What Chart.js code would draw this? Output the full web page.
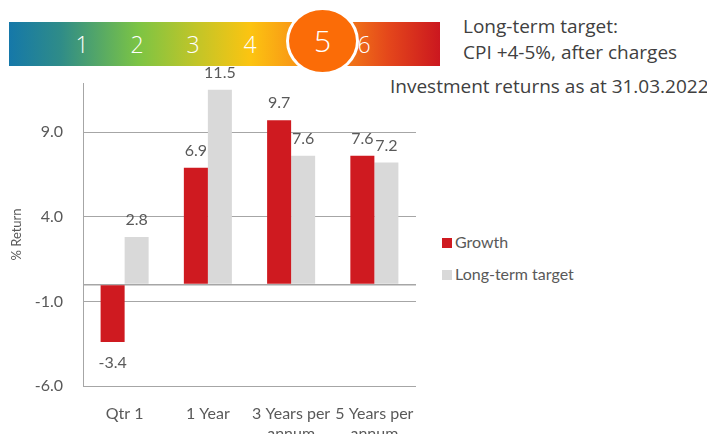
<!DOCTYPE html>
<html>
<head>
<meta charset="utf-8">
<script src="https://cdn.jsdelivr.net/npm/chart.js@4"></script>
<style>
body{margin:0;width:707px;height:434px;overflow:hidden;background:#fff;font-family:'Open Sans',sans-serif;color:#404040;position:relative}
#wrap{position:absolute;left:0;top:0;width:430px;height:434px}
.scale{position:absolute;left:9px;top:22px;width:431px;height:44px;
  background:linear-gradient(90deg,#1578a9 0%,#2f8c88 12%,#7cc444 30%,#c4c527 44%,#fcc411 56%,#f99d15 65%,#f07018 80%,#e4471b 88%,#cb171f 100%)}
.n{position:absolute;top:22px;height:44px;line-height:44px;color:#fff;font-size:23px;font-weight:300;transform:translateX(-50%)}
.dot{position:absolute;left:286px;top:7px;width:67px;height:62px;border:3px solid #fff;border-radius:50%;background:#fb6c07;
  color:#fff;font-size:30px;font-weight:300;text-align:center;line-height:62px}
.hd{position:absolute;font-size:19px;white-space:nowrap}
.lg{position:absolute;left:442px;font-family:Lato,sans-serif;font-size:16px;color:#595959;white-space:nowrap}
.lg i{display:inline-block;width:10px;height:10px;margin-right:3px;vertical-align:0}
</style>
</head>
<body>
<div class="scale"></div>
<div class="n" style="left:82px">1</div><div class="n" style="left:137px">2</div>
<div class="n" style="left:193px">3</div><div class="n" style="left:250px">4</div>
<div class="n" style="left:364px">6</div>
<div class="dot">5</div>
<div class="hd" style="left:463px;top:13px">Long-term target:</div>
<div class="hd" style="left:463px;top:39px">CPI +4-5%, after charges</div>
<div class="hd" style="left:390px;top:73px">Investment returns as at 31.03.2022</div>
<div id="wrap"><canvas id="c"></canvas></div>
<div class="lg" style="top:232px"><i style="background:#cf1a20"></i>Growth</div>
<div class="lg" style="top:264px"><i style="background:#d9d9d9"></i>Long-term target</div>
<script>
const categories=[['Qtr 1'],['1 Year'],['3 Years per','annum'],['5 Years per','annum']];
const growth=[-3.4,6.9,9.7,7.6];
const target=[2.8,11.5,7.6,7.2];
const yTicks=[-6,-1,0,4,9];
const yMin=-6,yMax=11.9;

const tc='#595959',gc='#a6a6a6';

/* value labels above / below bars */
const valueLabels={id:'valueLabels',afterDatasetsDraw(chart){
  const ctx=chart.ctx;
  ctx.save();ctx.font='16px Lato';ctx.fillStyle=tc;ctx.textAlign='center';
  chart.data.datasets.forEach((ds,i)=>{
    chart.getDatasetMeta(i).data.forEach((bar,j)=>{
      const v=ds.data[j];
      if(v>=0){ctx.textBaseline='alphabetic';ctx.fillText(v.toFixed(1),bar.x,bar.y-12);}
      else{ctx.textBaseline='top';ctx.fillText(v.toFixed(1),bar.x,bar.y+13);}
    });
  });
  ctx.restore();
}};

new Chart(document.getElementById('c'),{
  type:'bar',
  data:{labels:categories,datasets:[
    {label:'Growth',data:growth,backgroundColor:'#cf1a20',categoryPercentage:0.577,barPercentage:1},
    {label:'Long-term target',data:target,backgroundColor:'#d9d9d9',categoryPercentage:0.577,barPercentage:1}
  ]},
  options:{responsive:true,maintainAspectRatio:false,animation:false,
    layout:{padding:{top:83,left:0,right:14,bottom:0}},
    plugins:{legend:{display:false},tooltip:{enabled:false}},
    scales:{
      x:{grid:{display:false},border:{display:false},
        ticks:{color:tc,font:{family:'Lato',size:16,lineHeight:1.25},padding:10,maxRotation:0,autoSkip:false},
        afterFit(s){s.height=48;s.paddingLeft=0;s.paddingRight=0;}},
      y:{min:yMin,max:yMax,
        afterBuildTicks(s){s.ticks=yTicks.map(v=>({value:v}));},
        afterFit(s){s.width=83;},
        grid:{color:gc,lineWidth:c=>c.tick&&c.tick.value===0?1.6:1,drawTicks:false},
        border:{display:true,color:gc,width:1},
        ticks:{color:tc,font:{family:'Lato',size:16},padding:20,callback:v=>v===0?'':v.toFixed(1)},
        title:{display:true,text:'% Return',color:tc,font:{family:'Lato',size:13},padding:{top:9,bottom:0}}}
    }},
  plugins:[valueLabels]
});
</script>
</body>
</html>
